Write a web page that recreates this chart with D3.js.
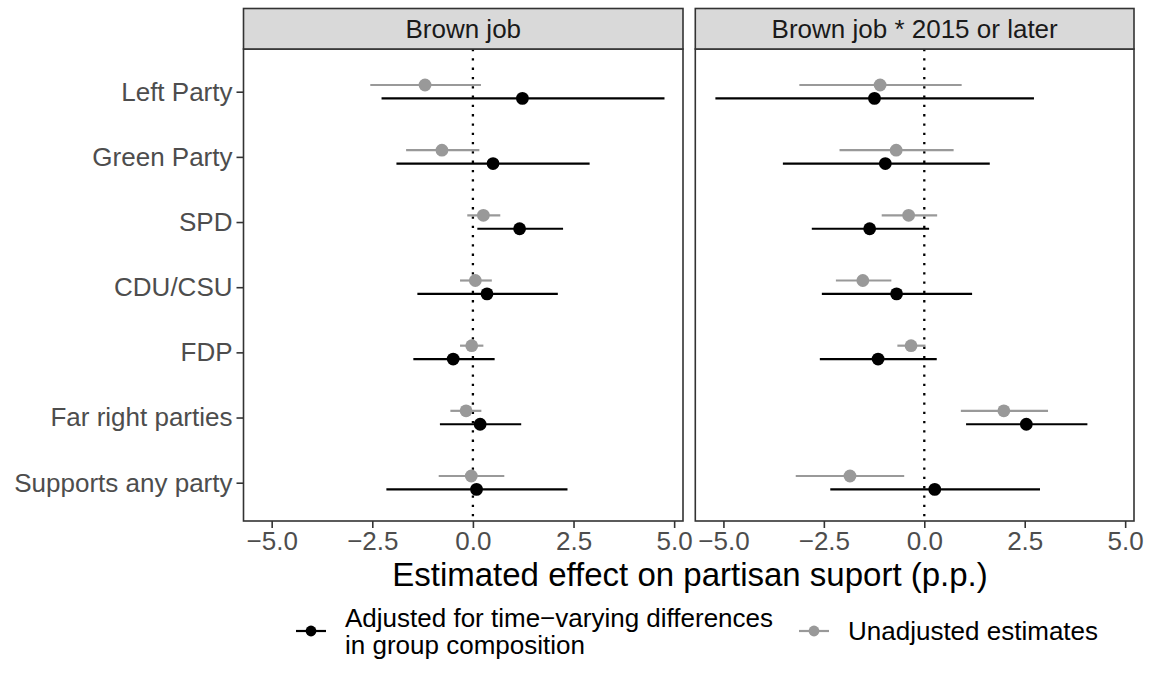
<!DOCTYPE html>
<html>
<head>
<meta charset="utf-8">
<script src="https://cdn.jsdelivr.net/npm/d3@7"></script>
<style>
  html, body { margin: 0; padding: 0; background: #fff; }
  svg { display: block; font-family: "Liberation Sans", Arial, Helvetica, sans-serif; }
</style>
</head>
<body>
<svg id="chart" width="1153" height="688"></svg>
<script>
// ---------------- DATA ----------------
const categories = ["Left Party", "Green Party", "SPD", "CDU/CSU", "FDP", "Far right parties", "Supports any party"];
const panels = ["Brown job", "Brown job * 2015 or later"];
const seriesNames = ["Adjusted for time\u2212varying differences\nin group composition", "Unadjusted estimates"];
const xTicks = [-5, -2.5, 0, 2.5, 5];

// Panel 1: Brown job
const adjEstP1 = [1.23, 0.50, 1.16, 0.35, -0.49, 0.18, 0.09];
const adjLoP1  = [-2.27, -1.90, 0.11, -1.38, -1.48, -0.82, -2.15];
const adjHiP1  = [4.76, 2.90, 2.24, 2.11, 0.54, 1.20, 2.35];
const unEstP1  = [-1.19, -0.77, 0.26, 0.06, -0.03, -0.17, -0.04];
const unLoP1   = [-2.55, -1.66, -0.14, -0.32, -0.32, -0.56, -0.85];
const unHiP1   = [0.20, 0.16, 0.68, 0.47, 0.26, 0.21, 0.78];

// Panel 2: Brown job * 2015 or later
const adjEstP2 = [-1.24, -0.97, -1.36, -0.69, -1.15, 2.54, 0.26];
const adjLoP2  = [-5.20, -3.52, -2.80, -2.55, -2.60, 1.04, -2.34];
const adjHiP2  = [2.73, 1.63, 0.12, 1.19, 0.31, 4.06, 2.88];
const unEstP2  = [-1.10, -0.70, -0.39, -1.53, -0.33, 1.98, -1.85];
const unLoP2   = [-3.11, -2.11, -1.06, -2.20, -0.67, 0.91, -3.20];
const unHiP2   = [0.93, 0.73, 0.32, -0.82, 0.03, 3.08, -0.50];

const xDomain = [-5.70, 5.22];

// ---------------- BUILD ----------------
function rows(est, lo, hi) {
  return categories.map((c, i) => ({ cat: c, est: est[i], lo: lo[i], hi: hi[i] }));
}
const panelData = [
  { title: panels[0], adj: rows(adjEstP1, adjLoP1, adjHiP1), un: rows(unEstP1, unLoP1, unHiP1) },
  { title: panels[1], adj: rows(adjEstP2, adjLoP2, adjHiP2), un: rows(unEstP2, unLoP2, unHiP2) }
];

const svg = d3.select("#chart");
const panelTop = 49, panelBottom = 521, stripTop = 8.5;
const panelX = [[243.5, 683], [695.3, 1134]];
const colAdj = "#000000", colUn = "#999999";
const textGray = "#4d4d4d", lineGray = "#333333";
const dodge = 6.7;

const y = d3.scalePoint().domain(categories).range([91.7, 482.7]);

panelData.forEach((pd, pi) => {
  const [x0, x1] = panelX[pi];
  const x = d3.scaleLinear().domain(xDomain).range([x0, x1]);
  const g = svg.append("g");

  g.append("rect").attr("x", x0).attr("y", panelTop).attr("width", x1 - x0).attr("height", panelBottom - panelTop)
    .attr("fill", "#fff");

  // zero line (dotted)
  g.append("line").attr("x1", x(0)).attr("x2", x(0)).attr("y1", panelTop).attr("y2", panelBottom)
    .attr("stroke", "#000").attr("stroke-width", 2.3).attr("stroke-dasharray", "2.3,7");

  const series = [
    { data: pd.un, col: colUn, off: -dodge },
    { data: pd.adj, col: colAdj, off: dodge }
  ];
  series.forEach(s => {
    g.selectAll(null).data(s.data).enter().append("line")
      .attr("x1", d => x(d.lo)).attr("x2", d => x(d.hi))
      .attr("y1", d => y(d.cat) + s.off).attr("y2", d => y(d.cat) + s.off)
      .attr("stroke", s.col).attr("stroke-width", 2.2);
    g.selectAll(null).data(s.data).enter().append("circle")
      .attr("cx", d => x(d.est)).attr("cy", d => y(d.cat) + s.off)
      .attr("r", 6.4).attr("fill", s.col);
  });

  g.append("rect").attr("x", x0).attr("y", panelTop).attr("width", x1 - x0).attr("height", panelBottom - panelTop)
    .attr("fill", "none").attr("stroke", lineGray).attr("stroke-width", 1.6);

  // strip
  g.append("rect").attr("x", x0).attr("y", stripTop).attr("width", x1 - x0).attr("height", panelTop - stripTop)
    .attr("fill", "#d9d9d9").attr("stroke", lineGray).attr("stroke-width", 1.6);
  g.append("text").attr("x", (x0 + x1) / 2).attr("y", 38).attr("text-anchor", "middle")
    .attr("font-size", 26).attr("fill", "#1a1a1a").text(pd.title);

  // x axis
  const xAxis = d3.axisBottom(x).tickValues(xTicks).tickFormat(d => d3.format(".1f")(d).replace("-", "\u2212"))
    .tickSize(7).tickPadding(4);
  const ax = g.append("g").attr("transform", `translate(0,${panelBottom})`).call(xAxis);
  ax.select(".domain").remove();
  ax.selectAll(".tick line").attr("stroke", lineGray).attr("stroke-width", 1.6);
  ax.selectAll(".tick text").attr("font-size", 26).attr("fill", textGray)
    .attr("font-family", "'Liberation Sans', Arial, sans-serif").attr("dy", "0.71em");

  if (pi === 0) {
    const yAxis = d3.axisLeft(y).tickSize(7).tickPadding(4);
    const ay = g.append("g").attr("transform", `translate(${x0},0)`).call(yAxis);
    ay.select(".domain").remove();
    ay.selectAll(".tick line").attr("stroke", lineGray).attr("stroke-width", 1.6);
    ay.selectAll(".tick text").attr("font-size", 26).attr("fill", textGray)
      .attr("font-family", "'Liberation Sans', Arial, sans-serif");
  }
});

// axis title
svg.append("text").attr("x", 690).attr("y", 586).attr("text-anchor", "middle")
  .attr("font-size", 33).attr("fill", "#000").text("Estimated effect on partisan suport (p.p.)");

// legend
const legendItems = [
  { name: seriesNames[0], col: colAdj, kx: 296, tx: 345 },
  { name: seriesNames[1], col: colUn, kx: 799, tx: 848 }
];
const keyY = 631;
legendItems.forEach(it => {
  const lg = svg.append("g");
  lg.append("line").attr("x1", it.kx).attr("x2", it.kx + 30).attr("y1", keyY).attr("y2", keyY)
    .attr("stroke", it.col).attr("stroke-width", 2.2);
  lg.append("circle").attr("cx", it.kx + 15).attr("cy", keyY).attr("r", 5.4).attr("fill", it.col);
  const lines = it.name.split("\n");
  const lh = 27;
  const firstBaseline = keyY + 9 - (lines.length - 1) * lh / 2;
  const t = lg.append("text").attr("font-size", 26).attr("fill", "#000");
  lines.forEach((ln, i) => {
    t.append("tspan").attr("x", it.tx).attr("y", firstBaseline + i * lh).text(ln);
  });
});
</script>
</body>
</html>
